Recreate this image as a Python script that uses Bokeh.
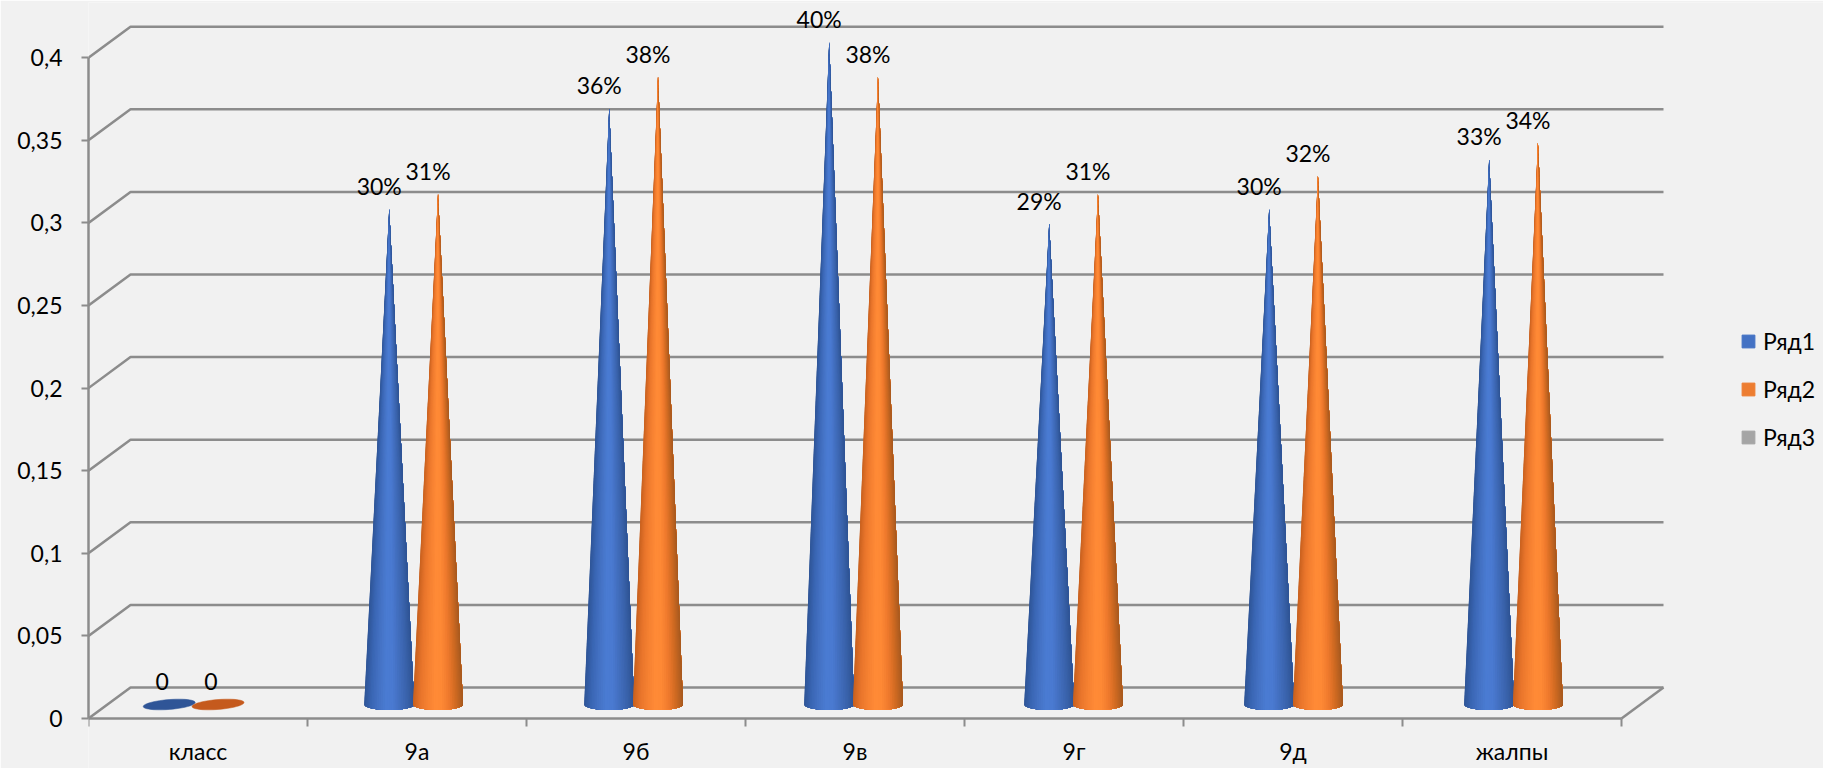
import math
from bokeh.plotting import figure
from bokeh.models import Range1d, FixedTicker, Legend, LegendItem, ColumnDataSource
from bokeh.core.properties import value
from bokeh.embed import file_html
from bokeh.resources import INLINE

categories = ["класс", "9а", "9б", "9в", "9г", "9д", "жалпы"]
series1 = [0, 0.30, 0.361, 0.401, 0.291, 0.30, 0.33]
series2 = [0, 0.309, 0.38, 0.38, 0.309, 0.32, 0.34]
labels1 = ["0", "30%", "36%", "40%", "29%", "30%", "33%"]
labels2 = ["0", "31%", "38%", "38%", "31%", "32%", "34%"]
y_ticks = [0, 0.05, 0.1, 0.15, 0.2, 0.25, 0.3, 0.35, 0.4]
y_tick_labels = ["0", "0,05", "0,1", "0,15", "0,2", "0,25", "0,3", "0,35", "0,4"]
legend_names = ["Ряд1", "Ряд2", "Ряд3"]
legend_colors = ["#4472C4", "#ED7D31", "#A5A5A5"]

# shading across a cone, left edge to right edge
blue_shade = [(47, 85, 151), (58, 102, 180), (68, 114, 196), (74, 123, 210), (74, 122, 209), (66, 110, 190), (58, 99, 172), (47, 84, 148)]
orange_shade = [(200, 97, 31), (232, 117, 43), (245, 128, 49), (255, 138, 54), (254, 137, 53), (240, 122, 45), (208, 106, 34), (168, 90, 31)]

PX_X = 219.0          # pixels per category
PX_Y = 82.6 / 0.05    # pixels per value unit
LEFT, FRONT = 88, 718
FIG_W, FIG_H = 1823, 768
DX, DY = 42 / PX_X, 31 / PX_Y
BASE = 14 / PX_Y
R_X, R_Y = 25 / PX_X, 5.5 / PX_Y
GAP = 48.8 / PX_X
SLICES = 36

p = figure(width=FIG_W, height=FIG_H, output_backend="svg", toolbar_location=None,
           x_range=Range1d(0, (FIG_W - LEFT) / PX_X),
           y_range=Range1d(-(FIG_H - FRONT) / PX_Y, (FRONT - 2) / PX_Y),
           min_border_left=LEFT, min_border_right=0, min_border_top=2, min_border_bottom=0,
           background_fill_color="#F1F1F1", border_fill_color="#F1F1F1", outline_line_color=None)
p.grid.visible = False

GRID = "#8C8C8C"
FONT = "Lato"

# back wall and floor
xs = [[0, DX, len(categories) + DX] for _ in y_ticks]
ys = [[v, v + DY, v + DY] for v in y_ticks]
xs.append([len(categories), len(categories) + DX])
ys.append([0, DY])
p.multi_line(xs, ys, line_color=GRID, line_width=2.5)

ax = p.xaxis[0]
ax.fixed_location = 0
ax.bounds = (0, len(categories))
ax.ticker = FixedTicker(ticks=[i + 0.5 for i in range(len(categories))],
                        minor_ticks=list(range(len(categories) + 1)))
ax.major_label_overrides = {i + 0.5: c for i, c in enumerate(categories)}
ax.major_tick_line_color = None
ax.major_tick_out = 0
ax.major_tick_in = 0
ax.minor_tick_out = 8
ax.minor_tick_in = 0
ax.minor_tick_line_color = GRID
ax.minor_tick_line_width = 2
ax.axis_line_color = GRID
ax.axis_line_width = 2.5
ax.major_label_standoff = 10
ax.major_label_text_font = FONT
ax.major_label_text_font_size = "23px"
ax.major_label_text_color = "#000000"

ay = p.yaxis[0]
ay.bounds = (0, 0.4)
ay.ticker = FixedTicker(ticks=y_ticks)
ay.major_label_overrides = dict(zip(y_ticks, y_tick_labels))
ay.minor_tick_line_color = None
ay.major_tick_line_color = GRID
ay.major_tick_line_width = 2
ay.major_tick_out = 7
ay.major_tick_in = 0
ay.axis_line_color = GRID
ay.axis_line_width = 2.5
ay.major_label_standoff = 19
ay.major_label_text_font = FONT
ay.major_label_text_font_size = "23px"
ay.major_label_text_color = "#000000"
ay.major_label_orientation = "horizontal"


def shade(stops, t):
    pos = t * (len(stops) - 1)
    k = min(int(pos), len(stops) - 2)
    f = pos - k
    a, b = stops[k], stops[k + 1]
    return "#%02X%02X%02X" % tuple(round(a[j] + (b[j] - a[j]) * f) for j in range(3))


def disc(cx, cy, rx, ry, tilt):
    n = 48
    out_x, out_y = [], []
    for k in range(n):
        t = 2 * math.pi * k / n
        out_x.append(cx + rx * math.cos(t))
        out_y.append(cy + ry * math.sin(t) + tilt * math.cos(t))
    return out_x, out_y


def cone(cx, v, stops):
    # painted left to right, each layer reaching the right rim so no seams show
    tip = BASE + v
    fx, fy, fc = [], [], []
    for k in range(SLICES):
        rim = [math.pi * j / SLICES for j in range(k, SLICES + 1)]
        fx.append([cx] + [cx - R_X * math.cos(a) for a in rim])
        fy.append([tip] + [BASE - R_Y * math.sin(a) for a in rim])
        left = cx - R_X * math.cos(math.pi * (k + 0.5) / SLICES)
        fc.append(shade(stops, (left - (cx - R_X)) / (2 * R_X)))
    p.patches(fx, fy, fill_color=fc, line_color=None)


def place(i, sign):
    return i + 0.5 - 0.02 + 0.0045 * i + sign * GAP / 2


for i, (a, b) in enumerate(zip(series1, series2)):
    ca, cb = place(i, -1), place(i, 1)
    for c, v, stops, dark in ((ca, a, blue_shade, "#2F5597"), (cb, b, orange_shade, "#C55A1D")):
        if v == 0:
            rx, ry = disc(c, BASE, R_X * 1.04, R_Y * 0.9, 2.0 / PX_Y)
            p.patch(rx, ry, fill_color=dark, line_color=dark, line_width=0.5)
        else:
            cone(c, v, stops)

all_values = series1 + series2
src = ColumnDataSource(dict(
    x=[place(i, -1) for i in range(len(categories))] + [place(i, 1) for i in range(len(categories))],
    y=[BASE + v for v in all_values],
    t=labels1 + labels2,
    dx=[-7 if v == 0 else -10 for v in all_values],
))
p.text("x", "y", text="t", source=src, x_offset="dx", y_offset=-23,
       text_align="center", text_baseline="middle",
       text_font=value(FONT), text_font_size="23px", text_color="#000000")

items = []
for name, col in zip(legend_names, legend_colors):
    r = p.rect(x=[float("nan")], y=[float("nan")], width=1, height=1, fill_color=col, line_color=col)
    items.append(LegendItem(label=name, renderers=[r]))
leg = Legend(items=items, location=(1740 - LEFT, 768 - 451), orientation="vertical",
             background_fill_alpha=0, border_line_color=None,
             glyph_width=16, glyph_height=16, label_standoff=7, spacing=20, padding=0, margin=0,
             label_text_font=FONT, label_text_font_size="23px", label_text_color="#000000",
             label_height=22)
p.add_layout(leg, "center")

html = file_html(p, INLINE)
open("out.html", "w").write(html)
